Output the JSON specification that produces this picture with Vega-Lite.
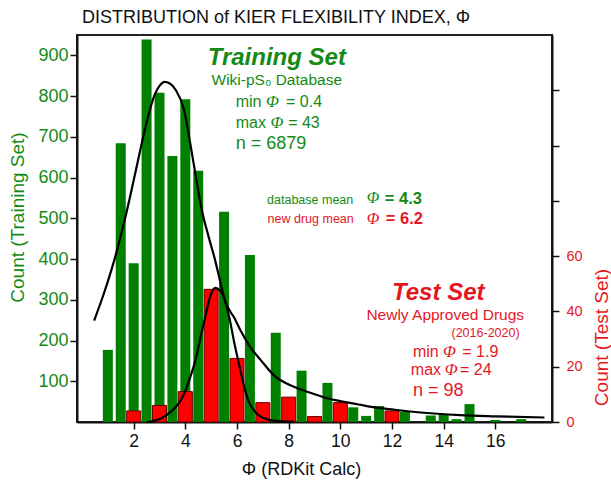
{
  "$schema": "https://vega.github.io/schema/vega-lite/v6.json",
  "width": 475,
  "height": 387,
  "autosize": "none",
  "padding": {"left": 77, "top": 35, "right": 59, "bottom": 63},
  "config": {
    "view": {"stroke": "#222", "strokeWidth": 2},
    "font": "Liberation Sans",
    "axis": {"labelFont": "Liberation Sans", "titleFont": "Liberation Sans", "titleFontWeight": "normal", "grid": false, "domainColor": "#111", "domainWidth": 2, "tickColor": "#111", "tickWidth": 1.5, "tickSize": 7}
  },
  "title": {"text": "DISTRIBUTION of KIER FLEXIBILITY INDEX, Φ", "anchor": "start", "frame": "group", "dx": 5, "offset": 8, "fontSize": 18, "fontWeight": "normal", "color": "#111", "font": "Liberation Sans"},
  "datasets": {
    "green": [
      {"phi": 1.0, "count": 177}, {"phi": 1.5, "count": 684}, {"phi": 2.0, "count": 390}, {"phi": 2.5, "count": 939},
      {"phi": 3.0, "count": 808}, {"phi": 3.5, "count": 653}, {"phi": 4.0, "count": 792}, {"phi": 4.5, "count": 617},
      {"phi": 5.5, "count": 516}, {"phi": 6.5, "count": 410}, {"phi": 7.5, "count": 219}, {"phi": 8.5, "count": 126},
      {"phi": 9.5, "count": 96}, {"phi": 10.5, "count": 36}, {"phi": 11.0, "count": 15}, {"phi": 11.5, "count": 39},
      {"phi": 12.5, "count": 25}, {"phi": 13.5, "count": 16}, {"phi": 14.0, "count": 20}, {"phi": 14.5, "count": 7},
      {"phi": 15.0, "count": 44}, {"phi": 16.0, "count": 5}, {"phi": 17.0, "count": 7}
    ],
    "red": [
      {"phi": 2, "count": 4}, {"phi": 3, "count": 6}, {"phi": 4, "count": 11}, {"phi": 5, "count": 48},
      {"phi": 6, "count": 23}, {"phi": 7, "count": 7}, {"phi": 8, "count": 9}, {"phi": 9, "count": 2},
      {"phi": 10, "count": 7}, {"phi": 12, "count": 4}
    ],
    "trainFit": [
      {"phi": 0.47, "count": 249}, {"phi": 0.85, "count": 316}, {"phi": 1.23, "count": 393}, {"phi": 1.67, "count": 500},
      {"phi": 2.09, "count": 619}, {"phi": 2.49, "count": 733}, {"phi": 2.81, "count": 803}, {"phi": 3.0, "count": 825},
      {"phi": 3.19, "count": 835}, {"phi": 3.4, "count": 831}, {"phi": 3.63, "count": 815}, {"phi": 3.95, "count": 766},
      {"phi": 4.2, "count": 680}, {"phi": 4.4, "count": 605}, {"phi": 4.64, "count": 520}, {"phi": 4.9, "count": 455},
      {"phi": 5.15, "count": 398}, {"phi": 5.35, "count": 345}, {"phi": 5.53, "count": 299}, {"phi": 5.9, "count": 255},
      {"phi": 6.16, "count": 222}, {"phi": 6.5, "count": 185}, {"phi": 6.92, "count": 152}, {"phi": 7.42, "count": 115},
      {"phi": 8.18, "count": 87}, {"phi": 8.69, "count": 75}, {"phi": 9.45, "count": 59}, {"phi": 9.95, "count": 52},
      {"phi": 10.71, "count": 43}, {"phi": 11.2, "count": 37}, {"phi": 12.1, "count": 30}, {"phi": 13.0, "count": 24},
      {"phi": 14.63, "count": 17}, {"phi": 16.0, "count": 14}, {"phi": 17.9, "count": 11}
    ],
    "testFit": [
      {"phi": 2.5, "count": 0}, {"phi": 2.75, "count": 0.3}, {"phi": 3.1, "count": 1.5}, {"phi": 3.5, "count": 4.2},
      {"phi": 3.8, "count": 7.5}, {"phi": 4.01, "count": 11.5}, {"phi": 4.2, "count": 16.5}, {"phi": 4.39, "count": 22.3},
      {"phi": 4.6, "count": 31}, {"phi": 4.77, "count": 38}, {"phi": 4.95, "count": 45}, {"phi": 5.15, "count": 48.5},
      {"phi": 5.35, "count": 47.5}, {"phi": 5.53, "count": 44}, {"phi": 5.72, "count": 37}, {"phi": 5.9, "count": 28.4},
      {"phi": 6.1, "count": 20}, {"phi": 6.28, "count": 12.7}, {"phi": 6.45, "count": 7.5}, {"phi": 6.66, "count": 4.2},
      {"phi": 6.9, "count": 2}, {"phi": 7.17, "count": 1.0}, {"phi": 7.42, "count": 0.5}, {"phi": 7.8, "count": 0.2},
      {"phi": 8.2, "count": 0.1}
    ],
    "hdr": [
      {"t": "Training Set", "phi": 7.54, "y": 876, "s": "train"},
      {"t": "Test Set", "phi": 13.79, "y": 299, "s": "test"}
    ],
    "sub": [
      {"t": "Wiki-pS₀ Database", "phi": 7.54, "y": 827, "s": "train"},
      {"t": "Newly Approved Drugs", "phi": 14.06, "y": 250, "s": "test"}
    ],
    "stat": [
      {"t": "min", "phi": 5.95, "y": 773, "s": "train"}, {"t": "= 0.4", "phi": 7.9, "y": 773, "s": "train"},
      {"t": "max", "phi": 5.95, "y": 722, "s": "train"}, {"t": "= 43", "phi": 7.98, "y": 722, "s": "train"},
      {"t": "min", "phi": 12.81, "y": 160, "s": "test"}, {"t": "= 1.9", "phi": 14.72, "y": 160, "s": "test"},
      {"t": "max", "phi": 12.73, "y": 115, "s": "test"}, {"t": "= 24", "phi": 14.63, "y": 115, "s": "test"}
    ],
    "nn": [
      {"t": "n = 6879", "phi": 5.95, "y": 670, "s": "train"},
      {"t": "n = 98", "phi": 12.81, "y": 65, "s": "test"}
    ],
    "phis": [
      {"t": "Φ", "phi": 7.12, "y": 773, "s": "train"}, {"t": "Φ", "phi": 7.3, "y": 722, "s": "train"},
      {"t": "Φ", "phi": 13.97, "y": 160, "s": "test"}, {"t": "Φ", "phi": 14.04, "y": 115, "s": "test"}
    ],
    "phiBig": [
      {"t": "Φ", "phi": 11.02, "y": 537, "s": "train"},
      {"t": "Φ", "phi": 11.02, "y": 486, "s": "test"}
    ],
    "meanLbl": [
      {"t": "database mean", "phi": 10.5, "y": 535, "s": "train"},
      {"t": "new drug mean", "phi": 10.52, "y": 488, "s": "test"},
      {"t": "(2016-2020)", "phi": 16.94, "y": 209, "s": "test"}
    ],
    "meanVal": [
      {"t": "= 4.3", "phi": 11.72, "y": 536, "s": "train"},
      {"t": "= 6.2", "phi": 11.76, "y": 487, "s": "test"}
    ]
  },
  "layer": [
    {
      "data": {"name": "green"},
      "mark": {"type": "bar", "size": 10, "color": "#008000"},
      "encoding": {
        "x": {"field": "phi", "type": "quantitative", "scale": {"domain": [0, 18], "nice": false, "zero": false},
          "axis": {"values": [2, 4, 6, 8, 10, 12, 14, 16], "labelFontSize": 17.5, "labelColor": "#111", "labelPadding": 3, "title": "Φ (RDKit Calc)", "titleFontSize": 18, "titleColor": "#111", "titleX": 224, "titleY": 47, "titleBaseline": "middle"}},
        "y": {"field": "count", "type": "quantitative", "scale": {"domain": [0, 950], "nice": false},
          "axis": {"orient": "left", "values": [100, 200, 300, 400, 500, 600, 700, 800, 900], "labelFontSize": 18, "labelColor": "#148a14", "labelPadding": 2, "title": "Count (Training Set)", "titleFontSize": 19, "titleColor": "#148a14", "titleAngle": 270, "titleBaseline": "middle", "titleX": -60, "titleY": 182}}
      }
    },
    {
      "data": {"name": "red"},
      "mark": {"type": "bar", "size": 14, "color": "#ff0000", "stroke": "#6b0000", "strokeWidth": 1},
      "encoding": {
        "x": {"field": "phi", "type": "quantitative", "scale": {"domain": [0, 18], "nice": false, "zero": false}},
        "y": {"field": "count", "type": "quantitative", "scale": {"domain": [0, 140], "nice": false},
          "axis": {"orient": "right", "values": [0, 20, 40, 60, 80, 100, 120], "labelExpr": "datum.value <= 60 ? datum.label : ''", "labelFontSize": 14.5, "labelColor": "#e3171f", "labelPadding": 7, "title": "Count  (Test Set)", "titleFontSize": 19, "titleColor": "#e3171f", "titleAngle": 270, "titleBaseline": "middle", "titleX": 49, "titleY": 302}}
      }
    },
    {
      "data": {"name": "trainFit"},
      "mark": {"type": "line", "color": "#000", "strokeWidth": 2.2, "interpolate": "monotone"},
      "encoding": {
        "x": {"field": "phi", "type": "quantitative", "scale": {"domain": [0, 18], "nice": false, "zero": false}},
        "y": {"field": "count", "type": "quantitative", "scale": {"domain": [0, 950], "nice": false}, "axis": null}
      }
    },
    {
      "data": {"name": "testFit"},
      "mark": {"type": "line", "color": "#000", "strokeWidth": 2.2, "interpolate": "monotone"},
      "encoding": {
        "x": {"field": "phi", "type": "quantitative", "scale": {"domain": [0, 18], "nice": false, "zero": false}},
        "y": {"field": "count", "type": "quantitative", "scale": {"domain": [0, 140], "nice": false}, "axis": null}
      }
    },
    {
      "data": {"name": "hdr"},
      "mark": {"type": "text", "fontSize": 24, "fontWeight": "bold", "fontStyle": "italic", "align": "center", "baseline": "alphabetic"},
      "encoding": {
        "x": {"field": "phi", "type": "quantitative", "scale": {"domain": [0, 18], "nice": false, "zero": false}},
        "y": {"field": "y", "type": "quantitative", "scale": {"domain": [0, 950], "nice": false}, "axis": null},
        "text": {"field": "t"},
        "color": {"field": "s", "type": "nominal", "scale": {"domain": ["train", "test"], "range": ["#148a14", "#e3171f"]}, "legend": null}
      }
    },
    {
      "data": {"name": "sub"},
      "mark": {"type": "text", "fontSize": 15.5, "align": "center", "baseline": "alphabetic"},
      "encoding": {
        "x": {"field": "phi", "type": "quantitative", "scale": {"domain": [0, 18], "nice": false, "zero": false}},
        "y": {"field": "y", "type": "quantitative", "scale": {"domain": [0, 950], "nice": false}, "axis": null},
        "text": {"field": "t"},
        "color": {"field": "s", "type": "nominal", "scale": {"domain": ["train", "test"], "range": ["#148a14", "#e3171f"]}, "legend": null}
      }
    },
    {
      "data": {"name": "stat"},
      "mark": {"type": "text", "fontSize": 16, "align": "left", "baseline": "alphabetic"},
      "encoding": {
        "x": {"field": "phi", "type": "quantitative", "scale": {"domain": [0, 18], "nice": false, "zero": false}},
        "y": {"field": "y", "type": "quantitative", "scale": {"domain": [0, 950], "nice": false}, "axis": null},
        "text": {"field": "t"},
        "color": {"field": "s", "type": "nominal", "scale": {"domain": ["train", "test"], "range": ["#148a14", "#e3171f"]}, "legend": null}
      }
    },
    {
      "data": {"name": "nn"},
      "mark": {"type": "text", "fontSize": 18, "align": "left", "baseline": "alphabetic"},
      "encoding": {
        "x": {"field": "phi", "type": "quantitative", "scale": {"domain": [0, 18], "nice": false, "zero": false}},
        "y": {"field": "y", "type": "quantitative", "scale": {"domain": [0, 950], "nice": false}, "axis": null},
        "text": {"field": "t"},
        "color": {"field": "s", "type": "nominal", "scale": {"domain": ["train", "test"], "range": ["#148a14", "#e3171f"]}, "legend": null}
      }
    },
    {
      "data": {"name": "phis"},
      "mark": {"type": "text", "fontSize": 17, "font": "Liberation Serif", "fontStyle": "italic", "align": "left", "baseline": "alphabetic"},
      "encoding": {
        "x": {"field": "phi", "type": "quantitative", "scale": {"domain": [0, 18], "nice": false, "zero": false}},
        "y": {"field": "y", "type": "quantitative", "scale": {"domain": [0, 950], "nice": false}, "axis": null},
        "text": {"field": "t"},
        "color": {"field": "s", "type": "nominal", "scale": {"domain": ["train", "test"], "range": ["#148a14", "#e3171f"]}, "legend": null}
      }
    },
    {
      "data": {"name": "phiBig"},
      "mark": {"type": "text", "fontSize": 16.5, "font": "Liberation Serif", "fontStyle": "italic", "align": "left", "baseline": "alphabetic"},
      "encoding": {
        "x": {"field": "phi", "type": "quantitative", "scale": {"domain": [0, 18], "nice": false, "zero": false}},
        "y": {"field": "y", "type": "quantitative", "scale": {"domain": [0, 950], "nice": false}, "axis": null},
        "text": {"field": "t"},
        "color": {"field": "s", "type": "nominal", "scale": {"domain": ["train", "test"], "range": ["#148a14", "#e3171f"]}, "legend": null}
      }
    },
    {
      "data": {"name": "meanLbl"},
      "mark": {"type": "text", "fontSize": 12.5, "align": "right", "baseline": "alphabetic"},
      "encoding": {
        "x": {"field": "phi", "type": "quantitative", "scale": {"domain": [0, 18], "nice": false, "zero": false}},
        "y": {"field": "y", "type": "quantitative", "scale": {"domain": [0, 950], "nice": false}, "axis": null},
        "text": {"field": "t"},
        "color": {"field": "s", "type": "nominal", "scale": {"domain": ["train", "test"], "range": ["#148a14", "#e3171f"]}, "legend": null}
      }
    },
    {
      "data": {"name": "meanVal"},
      "mark": {"type": "text", "fontSize": 16.5, "fontWeight": "bold", "align": "left", "baseline": "alphabetic"},
      "encoding": {
        "x": {"field": "phi", "type": "quantitative", "scale": {"domain": [0, 18], "nice": false, "zero": false}},
        "y": {"field": "y", "type": "quantitative", "scale": {"domain": [0, 950], "nice": false}, "axis": null},
        "text": {"field": "t"},
        "color": {"field": "s", "type": "nominal", "scale": {"domain": ["train", "test"], "range": ["#148a14", "#e3171f"]}, "legend": null}
      }
    }
  ],
  "resolve": {"scale": {"y": "independent"}, "axis": {"y": "independent"}}
}
